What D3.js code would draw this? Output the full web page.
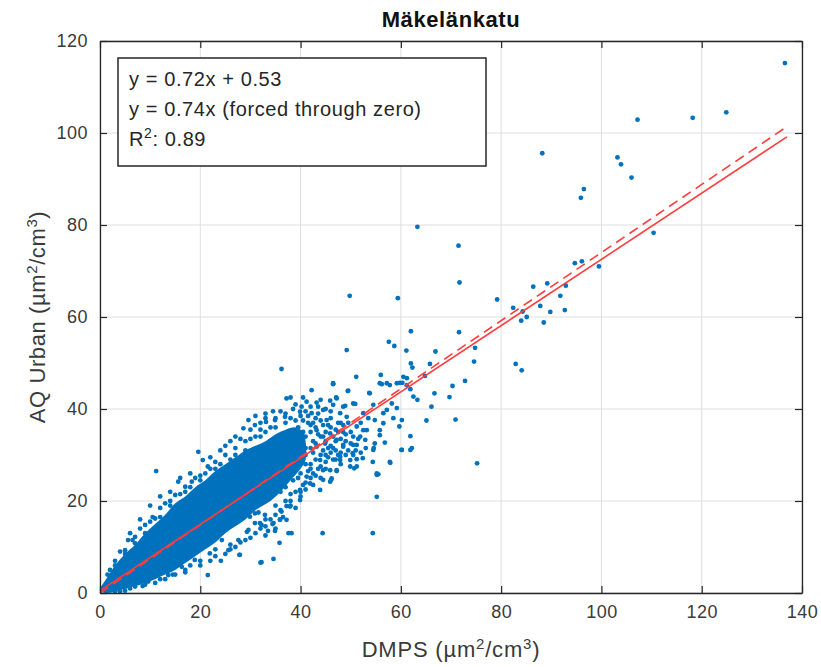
<!DOCTYPE html>
<html>
<head>
<meta charset="utf-8">
<script src="https://cdn.jsdelivr.net/npm/d3@7"></script>
<style>
  body { margin: 0; background: #fff; }
  svg { font-family: "Liberation Sans", Arial, sans-serif; }
</style>
</head>
<body>
<svg id="chart" width="821" height="667"></svg>
<script>
// chart data
const title = 'Mäkelänkatu';
const xTicks = [0, 20, 40, 60, 80, 100, 120, 140];
const yTicks = [0, 20, 40, 60, 80, 100, 120];
const legendLines = ['y = 0.72x + 0.53', 'y = 0.74x (forced through zero)'];
const r2Text = ': 0.89';

// fit lines (end points)
const fitX = [0, 137];
const fitY = [0.53, 99.17];
const zeroX = [0, 137];
const zeroY = [0, 101.4];

// dense core of the point cloud (outline, upper then lower edge)
const coreUpper = [[0, 0.5], [1.5, 3.5], [3, 6], [5, 8.5], [7, 10.5], [9, 13], [11, 15], [13, 17], [15, 19.5],
  [17, 21], [19, 23], [21, 24.5], [23, 26.5], [25, 28], [27, 29.5], [29, 31], [31, 32], [33, 33], [35, 34.5],
  [37, 35.5], [39, 36], [40.5, 35], [41, 33]];
const coreLower = [[41, 29], [40, 27], [38, 24.5], [36, 22], [34, 20], [31, 18], [29, 16], [27, 14.5], [25, 13],
  [23, 11], [21, 9.5], [19, 8], [17, 6.5], [15, 5], [13, 4], [11, 3], [9, 2.2], [7, 1.5], [4, 0.6], [1.5, 0]];

// scattered points around the core and outliers
const points = [
  [136.6,115.2],[124.9,104.5],[118.2,103.3],[107.2,102.9],[88.2,95.6],[103.2,94.7],[103.9,93.2],[106,90.3],
  [96.5,87.8],[95.9,85.9],[110.4,78.3],[99.5,71],[94.7,71.7],[96.1,72.1],[86.4,66.6],[89.2,67.3],[92.9,66.8],
  [91.8,64.6],[87.8,62.4],[89.8,61.1],[92.7,61.5],[82.4,62],[84.3,61.2],[84,59.2],[85.1,60],[88.5,58.8],[79.2,63.8],
  [63.3,79.6],[71.5,75.5],[71.7,67.5],[49.8,64.6],[59.4,64.1],
  [71.6,56.7],[62,56.9],[57.6,54.6],[58.7,53.7],[61.1,52.7],[49.2,52.8],[66.9,52.5],[74.8,53.3],[74.6,50.3],
  [82.9,49.8],[84.1,48.4],[65.8,49.8],[62,49.9],[62.3,49],[72.8,46.1],[70.3,45],[69.7,42.6],[66.7,43.4],
  [64.8,47.2],[56,47.4],[51.1,47],[46.5,45.4],[49.5,44],[47.1,42.5],[53.8,43.4],[61.9,44.3],[62.5,42.7],
  [63.3,42],[60.3,45.7],[61.2,46.7],[59.8,45.7],[66.1,40.5],[65.1,37.5],[70.9,37.7],[75.2,28.2],[61.9,34.1],
  [61.9,31.1],[60.1,31.1],[57.9,28.3],[55.5,25.8],[55.2,20.9],[54.4,28.5],[56.8,32.7],[55.8,34.3],[54.6,31.5],
  [52.4,29.3],[51.2,29.1],[50.7,27.1],[50.4,30.4],[47.2,26.5],[46.1,24.6],
  [36.2,48.7],[37.2,42.3],[42.2,44.1],[49.4,43.9],[57.2,45.6],[56.2,45.4],[59.2,45.6],[60.5,47],[61.2,45.2],
  [53.7,43.5],[50.9,41.1],[48.9,40.7],[45.9,41.8],[46.5,40.9],[43.2,41.4],[41.2,41.6],[40.2,40.5],[39.9,39.4],
  [36.9,38.3],[34.9,37.6],[33.1,37.2],[30.9,36.5],[29.6,37.6],[28.6,35.8],
  [58.2,41.2],[59.2,40.2],[57.2,39.8],[58.5,38],[59.7,36.2],[54.8,37.6],[55.8,35.4],[52.5,35.4],[51.2,36.2],
  [50.5,32.2],[52.9,33.3],[54.8,32.5],[54.5,31.1],[60.2,31.1],
  [47.9,29.6],[49.9,28.9],[51.2,27.5],[50.5,30],[47.2,26.7],[45.9,24.2],[43.9,22.4],[55.2,25.7],[41.9,23.8],
  [39.9,20.2],[35.9,15.9],[34.6,15.2],[31.9,15.2],[29.9,16.6],
  [42.2,39.1],[44.5,39.8],[45.2,37.6],[47.9,39.1],[49.2,38.3],[43.2,35.4],[45.9,34.7],[44.9,32.5],[43.2,31.8],
  [47.2,33.3],[48.5,32.2],[44.5,26.7],[46.2,24.9],[42.5,26],
  [44.4,13],[54.4,13],[38.2,13],[37.6,13],[35.8,10.9],[34.6,7.4],[32.2,6.7],[27.9,8.3],[34.9,13.5],[29.3,13.3],
  [34.4,15],[32.2,14.8],[30.9,15.2],[35.9,16],[36.2,17.7],[37.2,18.9],[32.9,17],[31.6,17.5],
  [11.2,26.5],[19.6,30.7],[20.5,28.9],[21.5,27.5],[21.5,3.9],[24.1,7],[27.8,8.3],[32,6.6],[28.6,30],[30.3,30.4],
  [15.6,24.2],[15,21.3],[17,23.1],[18.3,24.2],[11,16.2],[9,14.8],[7,12.2],[5.6,11.5],[5,9.3],
  [24.3,11.5],[25.6,9.3],[21.9,8.6],[18.9,7.2],[16.3,5.7],[13.6,3.9],[9.6,2.5],[7,1.4],[27.6,11.5],[29.6,13.7],
  [30.9,17.3],
  [62.2,31.5],[57.8,28.5],[55.2,26],[46.5,45.6],[55.8,45.6],[57.8,45.2],[47.2,42.3],[48.5,40.5],[50.5,41.2],
  [52.5,39.1],[54.5,40.9],[56.5,39.1],[60.2,37.6],[56.5,36.9],[53.2,35.4],[51.9,34],[51.2,32.2],[48.5,31.8],
  [47.9,28.9],[49.9,27.5],[45.9,26.7],[44.5,24.6],[43.9,28.9],[41.2,25.3],[39.9,22.4],[37.9,18.8],[37.2,15.9],
  [38,27],[38.5,30],[39,33],[39.5,36],[40,26],[40.5,29],[41,31.5],[41,34],[41.5,37],[42,28],[42.5,30.5],
  [42.5,33],[43,38],[43.5,27],[44,30],[44,34],[44.5,36.5],[45,28.5],[45.5,31.5],[46,36],[46.5,29],[47,31],
  [47.5,35],[48,37],[36.5,26],[37,29],[37.5,32.5],[38,35],[36,22],[37,23],[38.5,24.5],[39.5,25],[40.5,23.5],
  [36,33.5],[35,36],[33,35],[32,34],[30,33.5],[27,31.5],[25,30],[23,28.5],[22,27],[20,25.5],[19,25],[14,20],
  [13,19.5],[12,18.5],[10.5,16.5],[8,14],[6.5,11.5],[4,9],[3,7],[2,5],[1.5,4],[26,10.5],[23,9.5],[20,7],
  [17,5],[14.5,4],[12,3],[8.5,1.5],[5,0.5],[3,0.4],[33,12.5],[35,19],[33,16],[38,20],
  // upper fringe of the core
  [3,6],[5,8.5],[7,10.8],[9,13],[10,15.5],[12,16.5],[14,19],[16,21.5],[17,22],[18,23],[20,24.5],[21,26],
  [23,27],[24,28],[26,29],[27,30],[29,31],[29,33],[31,34],[32,35.5],[34,36],[35,38],[36,39.5],[37,37],
  [33,39],[31,38.5],[26,33],[24,31],[22,29.5],[18,26],[16,25],[14,22],[12,21],[10,19],[8,16],[6,13],
  [37,39],[38,38],[38.5,40],[39,37.5],[40,38.5],[41,39.5],[42,40.5],[43.5,40.5],[44,42],[45,40],[46,39.5],
  [40.5,42.5],[39,41],[38,42.5],[34.5,39.5],[33,38],[32,37],[30,35.5],[28,33.5],[27,34],[25,32],
  // lower fringe of the core
  [4,0.3],[6,1],[9,1.8],[11,2.2],[13,3],[15,4],[17,4.5],[18,6],[20,6],[22,7],[23,8],[25,8.5],[26,9.5],
  [27,10],[28,11],[29,11.5],[30,12],[31,13],[32,14],[33,14.5],[34,16],[35,17],[36,18],[37,20],[38,21.5],
  [39,22],[40,22],[41,24],[42,25],
  [42,27],[43,25.5],[44,25],[45,27],[41,22.5],[42.5,23.5],[40,21],[38,19],[39,18.5],[36.5,16.5],[35,14],[33.5,13.5],
  // middle of the cloud, right of the core
  [34,25],[35,27],[35,30],[36,28],[36,31],[36.5,34],[37,26],[37.5,30.5],[38,32],[38.5,28],[39,30.5],
  [39,34.5],[39.5,27.5],[40,31],[40,33],[40.5,35],[41,28],[41,30],[41.5,26.5],[42,31.5],[42,35],[42.5,37],
  [43,29],[43,32.5],[43.5,34.5],[44,27.5],[44.5,31],[45,33],[45,35],[45.5,29.5],[46,32],[46.5,34],[47,29],
  [47.5,37],[48,30.5],[48.5,35],[49,33],[49.5,31],[50,35],
  [40.5,37.5],[41.5,38.5],[42,36.5],[43,36],[43.5,39],[44,37.5],[44.5,34],[45,30],[45.5,36.5],[46,30.5],
  [46.5,31.5],[46,38],[47,35.5],[47,33],[47.5,30],[48,33.5],[48,28],[48.5,36.5],[49,30],[49,34.5],[49.5,37],
  [50,32.5],[50.5,34],[51,31],[51.5,33.5],[52,30.5],[52,37],[53,31.5],[53.5,38]
];

const svg = d3.select('#chart');
const margin = {left: 100, right: 19, top: 41, bottom: 74};
const width = 821 - margin.left - margin.right;
const height = 667 - margin.top - margin.bottom;
const axisColor = '#262626';
const dotColor = '#0072BD';
const lineColor = '#ff3c3c';

const x = d3.scaleLinear().domain([0, 140]).range([margin.left, margin.left + width]);
const y = d3.scaleLinear().domain([0, 120]).range([margin.top + height, margin.top]);

// grid
const grid = svg.append('g');
grid.selectAll('.gx').data(xTicks).enter().append('line')
    .attr('x1', d => x(d)).attr('x2', d => x(d))
    .attr('y1', y(0)).attr('y2', y(120))
    .attr('stroke', '#dedede').attr('stroke-width', 1);
grid.selectAll('.gy').data(yTicks).enter().append('line')
    .attr('x1', x(0)).attr('x2', x(140))
    .attr('y1', d => y(d)).attr('y2', d => y(d))
    .attr('stroke', '#dedede').attr('stroke-width', 1);

// dense core
const outline = coreUpper.concat(coreLower);
svg.append('path')
    .datum(outline)
    .attr('d', d3.line().x(d => x(d[0])).y(d => y(d[1])).curve(d3.curveCatmullRomClosed))
    .attr('fill', dotColor);

// scatter
svg.append('g').selectAll('circle')
    .data(points)
    .enter()
    .append('circle')
    .attr('cx', d => x(d[0]))
    .attr('cy', d => y(d[1]))
    .attr('r', 2.4)
    .attr('fill', dotColor);

// fit lines
const lineGen = d3.line().x(d => x(d[0])).y(d => y(d[1]));
svg.append('path')
    .datum(fitX.map((v, i) => [v, fitY[i]]))
    .attr('d', lineGen)
    .attr('fill', 'none').attr('stroke', lineColor).attr('stroke-width', 1.6);
svg.append('path')
    .datum(zeroX.map((v, i) => [v, zeroY[i]]))
    .attr('d', lineGen)
    .attr('fill', 'none').attr('stroke', lineColor).attr('stroke-width', 1.6)
    .attr('stroke-dasharray', '10,6');

// axes (ticks inward, box on)
const tickLen = 7;
svg.append('g').attr('transform', 'translate(0,' + y(0) + ')')
    .call(d3.axisBottom(x).tickValues(xTicks).tickSize(-tickLen).tickPadding(12).tickSizeOuter(0));
svg.append('g').attr('transform', 'translate(' + x(0) + ',0)')
    .call(d3.axisLeft(y).tickValues(yTicks).tickSize(-tickLen).tickPadding(12).tickSizeOuter(0));
svg.append('g').attr('transform', 'translate(0,' + y(120) + ')')
    .call(d3.axisTop(x).tickValues(xTicks).tickSize(-tickLen).tickFormat('').tickSizeOuter(0));
svg.append('g').attr('transform', 'translate(' + x(140) + ',0)')
    .call(d3.axisRight(y).tickValues(yTicks).tickSize(-tickLen).tickFormat('').tickSizeOuter(0));

svg.selectAll('.domain').attr('stroke', axisColor).attr('stroke-width', 1.3);
svg.selectAll('.tick line').attr('stroke', axisColor).attr('stroke-width', 1.2);
svg.selectAll('.tick text')
    .attr('fill', '#3a3a3a')
    .style('font-size', '18px')
    .style('letter-spacing', '0.5px')
    .style('font-family', '"Liberation Sans", Arial, sans-serif');

// axis labels
const xLabel = svg.append('text')
    .attr('x', x(70)).attr('y', 657)
    .attr('text-anchor', 'middle')
    .attr('fill', '#3a3a3a')
    .style('font-size', '22px')
    .style('letter-spacing', '0.8px');
xLabel.append('tspan').text('DMPS (µm');
xLabel.append('tspan').attr('dy', -8).style('font-size', '15px').text('2');
xLabel.append('tspan').attr('dy', 8).text('/cm');
xLabel.append('tspan').attr('dy', -8).style('font-size', '15px').text('3');
xLabel.append('tspan').attr('dy', 8).text(')');

const yLabel = svg.append('text')
    .attr('transform', 'translate(45,' + y(60) + ') rotate(-90)')
    .attr('text-anchor', 'middle')
    .attr('fill', '#3a3a3a')
    .style('font-size', '22px')
    .style('letter-spacing', '0.6px');
yLabel.append('tspan').text('AQ Urban (µm');
yLabel.append('tspan').attr('dy', -8).style('font-size', '15px').text('2');
yLabel.append('tspan').attr('dy', 8).text('/cm');
yLabel.append('tspan').attr('dy', -8).style('font-size', '15px').text('3');
yLabel.append('tspan').attr('dy', 8).text(')');

// title
svg.append('text')
    .attr('x', x(70)).attr('y', 27)
    .attr('text-anchor', 'middle')
    .attr('fill', '#111')
    .style('font-size', '22px')
    .style('letter-spacing', '0.6px')
    .style('font-weight', 'bold')
    .text(title);

// legend box
const legend = svg.append('g');
legend.append('rect')
    .attr('x', 118).attr('y', 58).attr('width', 368).attr('height', 108)
    .attr('fill', '#fff').attr('stroke', axisColor).attr('stroke-width', 1.5);
legend.selectAll('.ll').data(legendLines).enter().append('text')
    .attr('x', 129).attr('y', (d, i) => 86 + i * 29.5)
    .attr('fill', '#262626')
    .style('font-size', '20px')
    .style('letter-spacing', '0.6px')
    .text(d => d);
const r2 = legend.append('text')
    .attr('x', 129).attr('y', 146)
    .attr('fill', '#262626')
    .style('font-size', '20px')
    .style('letter-spacing', '0.6px');
r2.append('tspan').text('R');
r2.append('tspan').attr('dy', -8).style('font-size', '14px').text('2');
r2.append('tspan').attr('dy', 8).text(r2Text);
</script>
</body>
</html>
